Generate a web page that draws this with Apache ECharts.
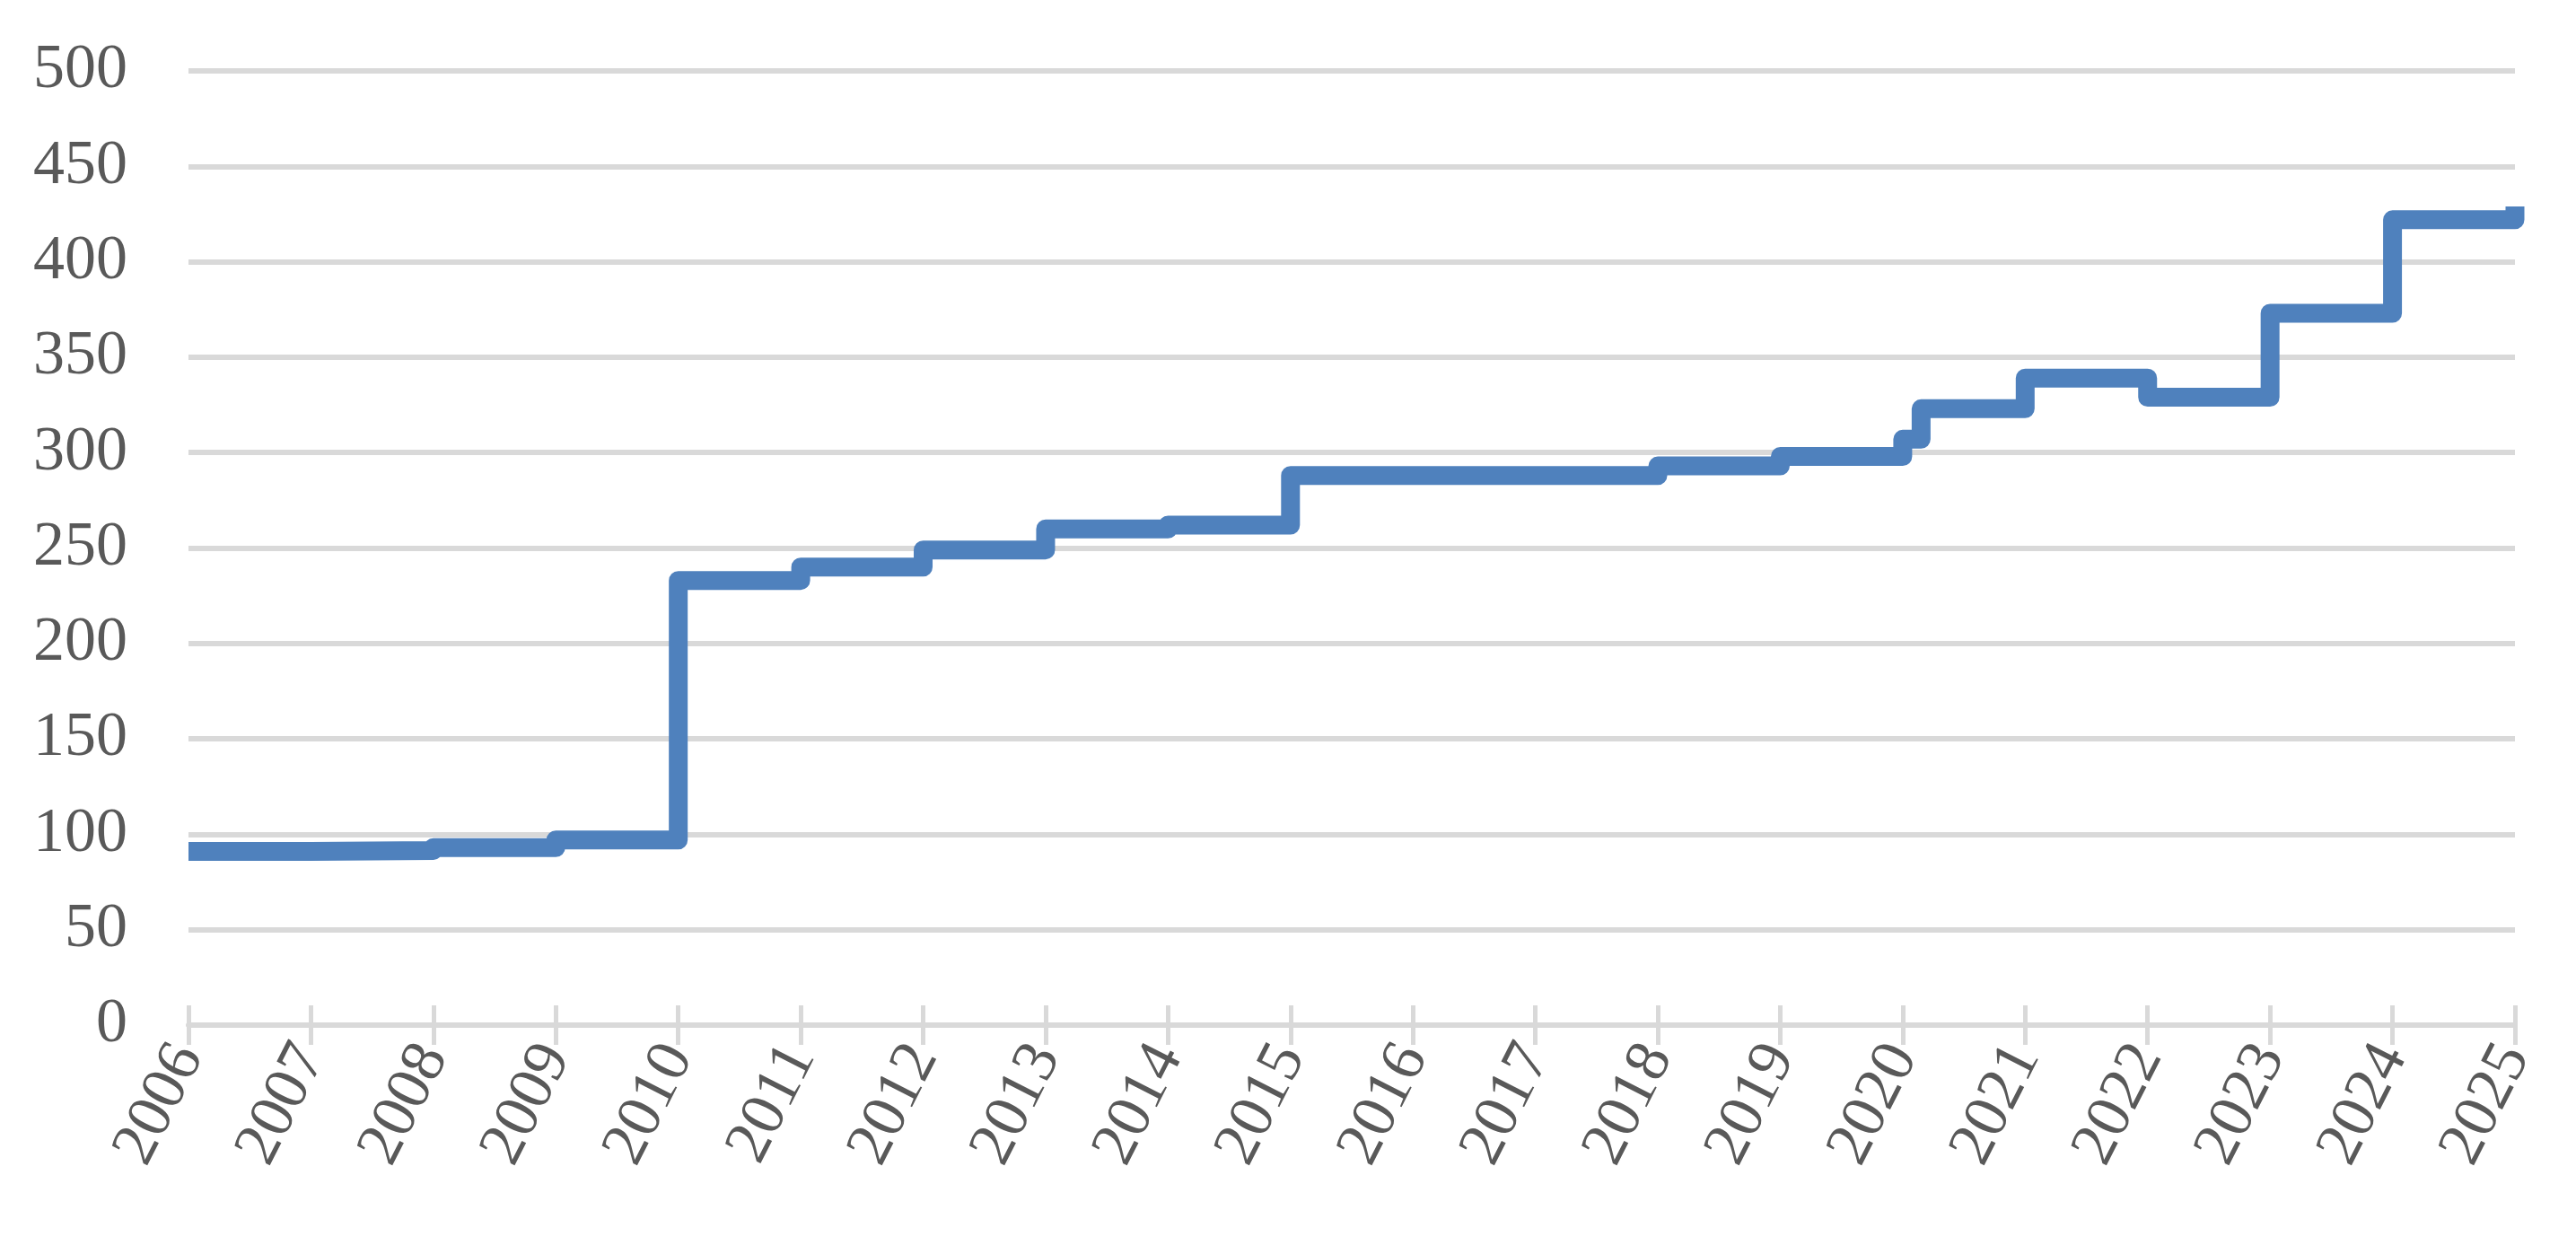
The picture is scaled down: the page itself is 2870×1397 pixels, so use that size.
<!DOCTYPE html>
<html>
<head>
<meta charset="utf-8">
<script src="https://cdn.jsdelivr.net/npm/echarts@6/dist/echarts.min.js"></script>
<style>
html, body { margin: 0; padding: 0; background: #fff; }
#chart { width: 2870px; height: 1397px; }
</style>
</head>
<body>
<div id="chart"></div>
<script>
// moments where the level changes, and the level from then on
var stepYears  = [2006, 2007, 2008, 2009, 2010, 2011, 2012, 2013, 2014, 2015, 2018, 2019, 2020, 2020.15, 2021, 2022, 2023, 2024, 2025];
var stepValues = [91, 91.5, 93, 97, 233, 240, 249, 260, 262, 288, 293, 298, 307, 323, 339, 329, 373, 422, 429];

var yearMin = 2006;
var yearMax = 2025;
var yMax = 500;
var yStep = 50;

window.onload = function () {
    var myChart = echarts.init(document.getElementById('chart'));

    var points = stepYears.map(function (y, i) { return [y, stepValues[i]]; });

    var labelFont = {
        color: '#595959',
        fontFamily: 'Liberation Serif',
        fontSize: 70
    };

    var option = {
        animation: false,
        grid: { left: 210, right: 68, top: 79, bottom: 255 },
        xAxis: [
            {
                type: 'value',
                min: yearMin,
                max: yearMax,
                interval: 1,
                axisLine: { show: true, onZero: false, lineStyle: { color: '#d9d9d9', width: 6 } },
                axisTick: { show: true, length: 22, lineStyle: { color: '#d9d9d9', width: 5 } },
                splitLine: { show: false },
                axisLabel: Object.assign({
                    rotate: 63,
                    margin: 26,
                    formatter: function (v) { return String(v); }
                }, labelFont)
            },
            {
                type: 'value',
                position: 'bottom',
                offset: 0,
                min: yearMin,
                max: yearMax,
                interval: 1,
                axisLine: { show: false },
                axisTick: { show: true, inside: true, length: 22, lineStyle: { color: '#d9d9d9', width: 5 } },
                axisLabel: { show: false },
                splitLine: { show: false }
            }
        ],
        yAxis: {
            type: 'value',
            min: 0,
            max: yMax,
            interval: yStep,
            axisLine: { show: false },
            axisTick: { show: false },
            splitLine: { lineStyle: { color: '#d9d9d9', width: 6 } },
            axisLabel: Object.assign({ margin: 68 }, labelFont)
        },
        series: [
            {
                type: 'line',
                step: 'end',
                data: points,
                showSymbol: false,
                clip: false,
                lineStyle: { color: '#4f81bd', width: 21, join: 'round', cap: 'butt' }
            }
        ]
    };

    myChart.setOption(option);
};
</script>
</body>
</html>
